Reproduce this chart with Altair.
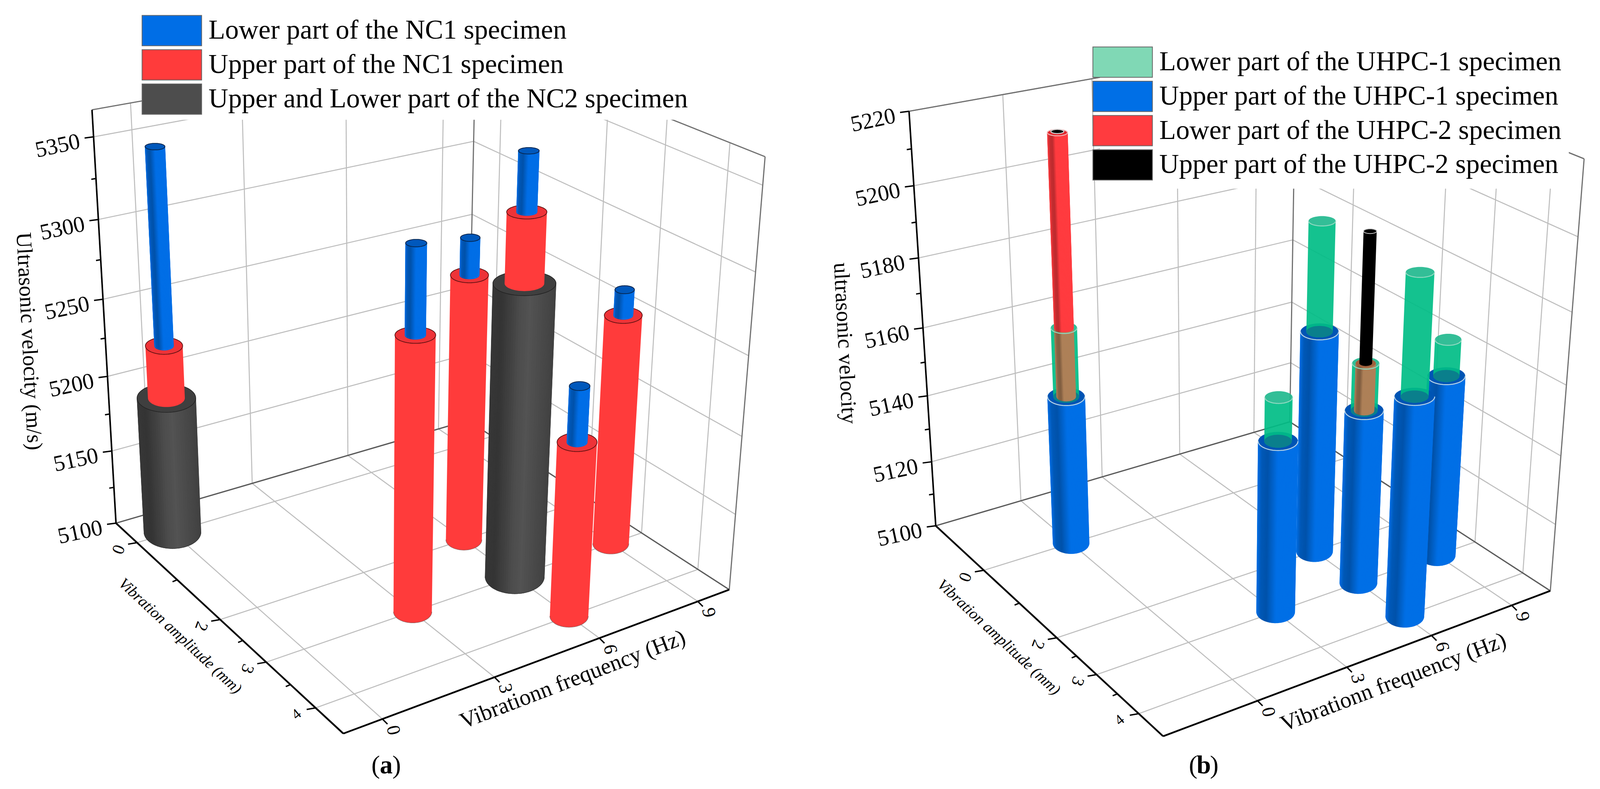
import altair as alt
import numpy as np

PANEL_W, PANEL_H = 2045, 2005
SERIF = "Liberation Serif"

# ---- bar positions (shared by both panels)
BAR_FREQ = [0, 3, 6, 6, 6, 9]
BAR_AMP = [0, 3, 2, 3, 4, 3]

# ---- panel (a) values
NC2_BOTH = [5191, None, None, 5287, None, None]
NC1_UPPER = [5225, 5273, 5274, 5329, 5211, 5251]
NC1_LOWER = [5348, 5326, 5297, 5364, 5245, 5267]

# ---- panel (b) values
UHPC1_UPPER = [5144.5, 5149.4, 5165.4, 5150.8, 5162.8, 5153.8]
UHPC1_LOWER = [5164.4, 5161.5, 5196.0, 5164.1, 5195.7, 5164.2]
UHPC2_LOWER = [5217.7, None, None, 5164.1, None, None]
UHPC2_UPPER = [5218.0, None, None, 5199.7, None, None]

LEGEND_A = ["Lower part of the NC1 specimen", "Upper part of the NC1 specimen", "Upper and Lower part of the NC2 specimen"]
LEGEND_A_COL = ["#006EE6", "#FF3B3B", "#4D4D4D"]
LEGEND_B = ["Lower part of the UHPC-1 specimen", "Upper part of the UHPC-1 specimen", "Lower part of the UHPC-2 specimen", "Upper part of the UHPC-2 specimen"]
LEGEND_B_COL = ["#80D8B5", "#006FE6", "#FF3B3F", "#000000"]

FREQ_TICKS = [0, 3, 6, 9]
AMP_TICKS = [0, 2, 3, 4]
AMP_MINOR = [1, 2.5, 3.5]
Z_TICKS_A = [5100, 5150, 5200, 5250, 5300, 5350]
Z_MINOR_A = [5125, 5175, 5225, 5275, 5325]
Z_TICKS_B = [5100, 5120, 5140, 5160, 5180, 5200, 5220]
Z_MINOR_B = [5110, 5130, 5150, 5170, 5190, 5210]

# ---- calibration of the two 3D boxes (data position -> picture position)
A_LIM = dict(f=(-1.0, 10.0), a=(-0.55, 4.53), z=(5100, 5366))
A_CAL = [(-1,-.55,5350,239,347),(-1,-.55,5300,251,561),(-1,-.55,5250,265,766),(-1,-.55,5200,278,965),(-1,-.55,5150,289,1158),(-1,-.55,5100,302,1340),(-1,-.55,5366,235,281),
         (-1,0,5100,348,1388),(-1,2,5100,565,1589),(-1,3,5100,683,1697),(-1,4,5100,810,1818),(-1,4.53,5100,877,1882),
         (0,4.53,5100,980,1843),(3,4.53,5100,1268,1735),(6,4.53,5100,1546,1634),(9,4.53,5100,1793,1541),(10,4.53,5100,1872,1511),
         (10,-.55,5100,1193,1080),(10,-.55,5366,1226,101),(10,4.53,5366,1959,403)]
B_LIM = dict(f=(-3.0, 10.5), a=(-1.45, 4.55), z=(5100, 5220))
B_CAL = [(-3,-1.45,5200,2345,475),(-3,-1.45,5180,2357,660),(-3,-1.45,5160,2369,839),(-3,-1.45,5140,2379,1014),(-3,-1.45,5120,2390,1182),(-3,-1.45,5100,2400,1345),(-3,-1.45,5220,2334,283),
         (-3,0,5100,2527,1463),(-3,2,5100,2713,1638),(-3,3,5100,2817,1735),(-3,4,5100,2923,1832),(-3,4.55,5100,2981,1885),
         (0,4.55,5100,3226,1794),(3,4.55,5100,3455,1709),(6,4.55,5100,3674,1628),(9,4.55,5100,3880,1553),(10.5,4.55,5100,3978,1515),
         (10.5,-1.45,5100,3311,1081),(10.5,-1.45,5220,3324,107),(10.5,4.55,5220,4067,405)]


def fit(cal, lim):
    zl, zh = lim["z"]
    rows, rhs = [], []
    for f, a, z, x, y in cal:
        u, v, t = f/10, a/5, (z-zl)/(zh-zl)
        rows.append([u,v,t,1,0,0,0,0,-x*u,-x*v,-x*t]); rhs.append(x)
        rows.append([0,0,0,0,u,v,t,1,-y*u,-y*v,-y*t]); rhs.append(y)
    p = np.linalg.lstsq(np.array(rows,float), np.array(rhs,float), rcond=None)[0]
    return np.append(p,1).reshape(3,4)


def shade(hex_col, factor):
    r, g, b = int(hex_col[1:3],16), int(hex_col[3:5],16), int(hex_col[5:7],16)
    c = [min(255,int(v*factor)) for v in (r,g,b)]
    return "#%02x%02x%02x" % tuple(c)


FLAT = None
SH_BLUE = ([0,.5,.75,.9,1],[1,1,.74,.8,1])
SH_DARK = ([0,.4,.55,.85,1],[.85,1.08,1.0,.68,.72])
SH_RED = ([0,.6,.75,.88,1],[1,1,.74,.78,1])


class Panel:
    def __init__(self, cal, lim, ox):
        self.P, self.lim, self.ox = fit(cal, lim), lim, ox
        self.feats, self.texts, self.bold, self.ital = [], [], [], []
        fm = sum(lim["f"])/2; am = sum(lim["a"])/2; zm = sum(lim["z"])/2
        self.w0 = self.proj(fm, am, zm)[2]

    def proj(self, f, a, z):
        zl, zh = self.lim["z"]
        q = self.P @ np.array([f/10, a/5, (z-zl)/(zh-zl), 1.0])
        return q[0]/q[2]-self.ox, q[1]/q[2]-8, q[2]

    def add(self, geom, coords, fill, stroke, sw, op=1):
        self.feats.append({"type":"Feature","geometry":{"type":geom,"coordinates":coords},
                           "properties":{"fill":fill,"stroke":stroke,"sw":sw,"op":op}})

    def seg(self, p, q, stroke, sw):
        a_, b_ = self.proj(*p), self.proj(*q)
        self.add("LineString",[[a_[0],a_[1]],[b_[0],b_[1]]],"transparent",stroke,sw)

    def tick(self, p, dx, dy, stroke="#000000", sw=3.5):
        a_ = self.proj(*p)
        self.add("LineString",[[a_[0],a_[1]],[a_[0]+dx,a_[1]+dy]],"transparent",stroke,sw)

    def label(self, p, dx, dy, t, angle, size):
        a_ = self.proj(*p)
        self.texts.append({"lon":a_[0]+dx,"lat":a_[1]+dy,"t":t,"angle":angle%360,"size":size})

    def free(self, x, y, t, angle, size, style=None):
        target = {"bold":self.bold,"italic":self.ital}.get(style,self.texts)
        target.append({"lon":x-self.ox,"lat":y-8,"t":t,"angle":angle%360,"size":size})

    def ell(self, f, a, z, R):
        zl, zh = self.lim["z"]
        x, y, w = self.proj(f, a, z)
        rx = R*self.w0/w
        k = .58-.27*(z-zl)/(zh-zl)
        return x, y, rx, rx*k

    def side(self, f, a, z0, z1, R, col, sh=FLAT, n=40, op=1):
        x0,y0,rx0,ry0 = self.ell(f,a,z0,R)
        x1,y1,rx1,ry1 = self.ell(f,a,z1,R)
        if sh is FLAT:
            th = np.linspace(np.pi, 0, 37)
            ring = [[float(x0+rx0*np.cos(q)),float(y0+ry0*np.sin(q))] for q in th]
            ring += [[float(x1+rx1*np.cos(q)),float(y1+ry1*np.sin(q))] for q in th[::-1]]
            ring.append(ring[0])
            self.add("Polygon",[ring],col,"transparent",0,op)
            return
        th = np.linspace(np.pi, 0, n+1)
        for i in range(n):
            t = (1-np.cos((th[i]+th[i+1])/2))/2
            c = shade(col, float(np.interp(t, sh[0], sh[1])))
            ring = []
            for q in (th[i], th[i+1]):
                ring.append([x0+rx0*np.cos(q), y0+ry0*np.sin(q)])
            for q in (th[i+1], th[i]):
                ring.append([x1+rx1*np.cos(q), y1+ry1*np.sin(q)])
            ring.append(ring[0])
            self.add("Polygon",[[[float(u),float(v)] for u,v in ring]],c,c,1.2)

    def cap(self, f, a, z, R, col, stroke="transparent", sw=0, op=1):
        x,y,rx,ry = self.ell(f,a,z,R)
        th = np.linspace(0,2*np.pi,61)
        pts = [[float(x+rx*np.cos(q)),float(y+ry*np.sin(q))] for q in th]
        self.add("Polygon",[pts],col,stroke,sw,op)

    def arc(self, f, a, z, R, stroke, sw):
        x,y,rx,ry = self.ell(f,a,z,R)
        th = np.linspace(np.pi,0,37)
        pts = [[float(x+rx*np.cos(q)),float(y+ry*np.sin(q))] for q in th]
        self.add("LineString",pts,"transparent",stroke,sw)

    def box(self, z_ticks):
        f0,f1 = self.lim["f"]; a0,a1 = self.lim["a"]; z0,z1 = self.lim["z"]
        G, W = "#bdbdbd", 2.6
        for z in z_ticks:
            self.seg((f0,a0,z),(f1,a0,z),G,W); self.seg((f1,a0,z),(f1,a1,z),G,W)
        for f in FREQ_TICKS:
            self.seg((f,a0,z0),(f,a0,z1),G,W); self.seg((f,a0,z0),(f,a1,z0),G,W)
        for a in AMP_TICKS:
            self.seg((f1,a,z0),(f1,a,z1),G,W); self.seg((f0,a,z0),(f1,a,z0),G,W)
        D = "#707070"
        self.seg((f0,a0,z1),(f1,a0,z1),D,3); self.seg((f1,a0,z1),(f1,a1,z1),D,3)
        self.seg((f1,a0,z0),(f1,a0,z1),D,3); self.seg((f1,a1,z0),(f1,a1,z1),D,3)
        self.seg((f0,a0,z0),(f1,a0,z0),"#5a5a5a",3.2); self.seg((f1,a0,z0),(f1,a1,z0),"#5a5a5a",3.2)

    def axes(self, z_ticks, z_minor):
        f0,f1 = self.lim["f"]; a0,a1 = self.lim["a"]; z0,z1 = self.lim["z"]
        self.seg((f0,a0,z0),(f0,a0,z1),"#000000",4)
        self.seg((f0,a0,z0),(f0,a1,z0),"#000000",4.5)
        self.seg((f0,a1,z0),(f1,a1,z0),"#000000",4.5)
        for z in z_ticks:
            self.tick((f0,a0,z),-23,3)
            self.label((f0,a0,z),-92,24,str(z),348,58)
        for z in z_minor:
            self.tick((f0,a0,z),-12,2)
        for a, ang, sz in zip(AMP_TICKS,[110,110,110,320],[44,44,44,38]):
            self.tick((f0,a,z0),-23,4)
            self.label((f0,a,z0),-49,17,str(a),ang,sz)
        for a in AMP_MINOR:
            self.tick((f0,a,z0),-12,5)
        for f in FREQ_TICKS:
            self.tick((f,a1,z0),13,13)
            self.label((f,a1,z0),27,29,str(f),78,48)


def build_a():
    p = Panel(A_CAL, A_LIM, 8)
    p.box(Z_TICKS_A)
    order = sorted(range(6), key=lambda i:(BAR_AMP[i], -BAR_FREQ[i]))
    for i in order:
        f, a = BAR_FREQ[i], BAR_AMP[i]
        base = 5100
        if NC2_BOTH[i] is not None:
            p.side(f,a,base,NC2_BOTH[i],78,"#4D4D4D",SH_DARK)
            p.arc(f,a,base,78,"#333333",1.2)
            p.cap(f,a,NC2_BOTH[i],78,"#3F3F3F","#222222",1.6)
            base = NC2_BOTH[i]
        p.side(f,a,base,NC1_UPPER[i],49,"#FF3B3B")
        if base == 5100:
            p.arc(f,a,base,49,"#8a5a5a",1.2)
        p.cap(f,a,NC1_UPPER[i],49,"#EE3338","#5a1010",1.8)
        p.side(f,a,NC1_UPPER[i],NC1_LOWER[i],25,"#006EE6",SH_BLUE)
        p.cap(f,a,NC1_LOWER[i],25,"#0058BC","#06264f",2)
    p.axes(Z_TICKS_A, Z_MINOR_A)
    p.free(74,874,"Ultrasonic velocity (m/s)",87,56)
    p.free(462,1631,"Vibration amplitude (mm)",43,40,"italic")
    p.free(1470,1743,"Vibrationn frequency (Hz)",339,58)
    p.free(964,1963,"(",0,66); p.free(991,1963,"a",0,66,"bold"); p.free(1018,1963,")",0,66)
    return p


def build_b():
    p = Panel(B_CAL, B_LIM, 2053)
    p.box(Z_TICKS_B)
    order = sorted(range(6), key=lambda i:(BAR_AMP[i], -BAR_FREQ[i]))
    RB, RG, RR, RK = 49, 34, 25, 16
    GREEN, GOP = "#00BD85", .92
    for i in order:
        f, a = BAR_FREQ[i], BAR_AMP[i]
        zb, zg = UHPC1_UPPER[i], UHPC1_LOWER[i]
        zr, zk = UHPC2_LOWER[i], UHPC2_UPPER[i]
        p.side(f,a,5100,zb,RB,"#006FE6",SH_BLUE)
        p.cap(f,a,zb,RB,"#0054B4")
        p.side(f,a,zb,zg,RG,GREEN,op=GOP)
        p.cap(f,a,zb,RG,"#0A7F8C")
        p.cap(f,a,zg,RG,"#22B98E",op=GOP)
        if zr is not None:
            p.side(f,a,zb,min(zr,zg),RR,"#AE8058",SH_RED)
            if zr > zg:
                p.side(f,a,zg,zr,RR,"#FF3B3F",SH_RED)
                p.cap(f,a,zr,RR,"#E0262C","#F2B4B4",2.5)
                p.cap(f,a,zk,RK,"#000000","#D0D0D0",2.5)
            else:
                p.cap(f,a,zr,RR,"#A0603C")
                p.side(f,a,zr,zk,RK,"#000000")
                p.cap(f,a,zk,RK,"#000000","#C9C9C9",2)
        p.arc(f,a,zg,RG,"#8FD8C0",2.5)
        p.arc(f,a,zb,RB,"#B9D3E5",2.5)
    p.axes(Z_TICKS_B, Z_MINOR_B)
    p.free(2168,879,"ultrasonic velocity",87,56)
    p.free(2563,1634,"Vibration amplitude (mm)",43,40,"italic")
    p.free(3576,1750,"Vibrationn frequency (Hz)",339,58)
    p.free(3062,1963,"(",0,66); p.free(3089,1963,"b",0,66,"bold"); p.free(3116,1963,")",0,66)
    return p


PROJ = dict(type="identity", scale=1, translate=[0,0])


def chart(p, names, cols, lx, ly, pad):
    g = alt.Chart(alt.Data(values=p.feats)).mark_geoshape().encode(
        fill=alt.Fill("properties.fill:N", scale=None),
        stroke=alt.Stroke("properties.stroke:N", scale=None),
        strokeWidth=alt.StrokeWidth("properties.sw:Q", scale=None),
        opacity=alt.Opacity("properties.op:Q", scale=None),
    ).project(**PROJ)
    t = alt.Chart(alt.Data(values=p.texts)).mark_text(font=SERIF, color="#000000", align="center", baseline="middle").encode(
        longitude="lon:Q", latitude="lat:Q", text="t:N",
        angle=alt.Angle("angle:Q", scale=None), size=alt.Size("size:Q", scale=None)
    ).project(**PROJ)
    it = alt.Chart(alt.Data(values=p.ital)).mark_text(font=SERIF, fontStyle="italic", color="#000000", align="center", baseline="middle").encode(
        longitude="lon:Q", latitude="lat:Q", text="t:N",
        angle=alt.Angle("angle:Q", scale=None), size=alt.Size("size:Q", scale=None)
    ).project(**PROJ)
    b = alt.Chart(alt.Data(values=p.bold)).mark_text(font=SERIF, fontWeight="bold", color="#000000", align="center", baseline="middle").encode(
        longitude="lon:Q", latitude="lat:Q", text="t:N",
        size=alt.Size("size:Q", scale=None)
    ).project(**PROJ)
    leg = alt.Chart(alt.Data(values=[{"n":n,"lon":10,"lat":10} for n in names])).mark_point(filled=True, opacity=0).encode(
        longitude="lon:Q", latitude="lat:Q",
        color=alt.Color("n:N", sort=None, scale=alt.Scale(domain=names, range=cols),
            legend=alt.Legend(title=None, orient="none", legendX=lx, legendY=ly, fillColor="#ffffff",
                symbolType="M-1.96,-1H1.96V1H-1.96Z", symbolSize=6084, symbolOpacity=1,
                symbolStrokeColor="#666666", symbolStrokeWidth=2, labelFont=SERIF, labelFontSize=70,
                labelColor="#000000", labelLimit=0, labelOffset=54, rowPadding=2, padding=pad,
                values=names))
    ).project(**PROJ)
    return alt.layer(g, t, it, b, leg).properties(width=PANEL_W, height=PANEL_H)


pa, pb = build_a(), build_b()
c = alt.hconcat(chart(pa, LEGEND_A, LEGEND_A_COL, 383, 18, 10),
                chart(pb, LEGEND_B, LEGEND_B_COL, 770, 91, 18), spacing=0)
c = c.resolve_scale(color="independent").configure_view(stroke=None).properties(padding=0)
c.save("out.html", embed_options={"renderer":"svg","actions":False})
